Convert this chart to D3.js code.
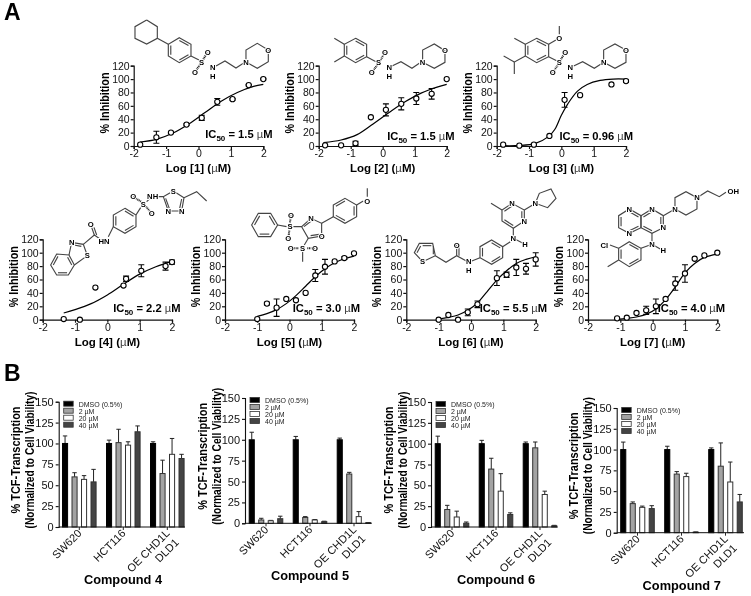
<!DOCTYPE html>
<html>
<head>
<meta charset="utf-8">
<script src="https://cdn.jsdelivr.net/npm/d3@7"></script>
<style>
  html, body { margin: 0; padding: 0; background: #fff; }
  svg { display: block; font-family: "Liberation Sans", Arial, sans-serif; filter: blur(0.4px); }
  .axis text { fill: #111; }
  .axis path, .axis line { stroke: #111; }
</style>
</head>
<body>
<div id="chart"></div>
<script>
const width = 751, height = 596;

// dose response points: log conc, % inhibition, error
const x1 = [-1.8, -1.3, -0.85, -0.37, 0.1, 0.58, 1.05, 1.55, 2];
const y1 = [2, 13, 20, 32, 42, 66, 70, 91, 100];
const e1 = [0, 9, 1, 1, 4, 5, 1, 1, 1];
const x2 = [-1.8, -1.3, -0.85, -0.37, 0.1, 0.58, 1.05, 1.53, 2];
const y2 = [1, 1, 4, 43, 54, 63, 71, 78, 100];
const e2 = [0, 0, 3, 0, 9, 9, 9, 8, 0];
const x3 = [-1.8, -1.3, -0.85, -0.37, 0.1, 0.58, 1.55, 2];
const y3 = [2, 0.5, 2, 15, 69, 76, 92, 97];
const e3 = [0, 0, 0, 0, 11, 0, 0, 2];
const x4 = [-1.35, -0.85, -0.37, 0.5, 0.58, 1.05, 1.8, 2];
const y4 = [1, 0, 48, 51, 61, 73, 80, 86];
const e4 = [0, 0, 0, 0, 4, 9, 6, 3];
const x5 = [-1, -0.7, -0.4, -0.1, 0.2, 0.5, 0.8, 1.1, 1.4, 1.7, 2];
const y5 = [1, 24, 18, 31, 29, 40, 66, 79, 87, 92, 99];
const e5 = [0, 2, 13, 0, 0, 0, 9, 11, 0, 2, 0];
const x6 = [-1, -0.7, -0.4, -0.1, 0.2, 0.8, 1.1, 1.4, 1.7, 2];
const y6 = [0, 7, 0, 11, 23, 62, 67, 78, 76, 90];
const e6 = [0, 0, 0, 5, 5, 11, 4, 12, 8, 10];
const x7 = [-1.1, -0.8, -0.5, -0.2, 0.1, 0.4, 0.7, 1, 1.3, 1.6, 2];
const y7 = [2, 3, 10, 14, 20, 31, 54, 69, 91, 96, 100];
const e7 = [0, 0, 0, 6, 11, 0, 10, 13, 0, 0, 0];

// fit curves
const cx1 = [-1.8, -1.3, -0.8, -0.3, 0.2, 0.7, 1.2, 1.7, 2];
const cy1 = [6, 10, 19, 33, 50, 67, 80, 89, 92];
const cx2 = [-1.85, -1.3, -0.8, -0.3, 0.2, 0.7, 1.2, 1.7, 2];
const cy2 = [5, 9, 17, 33, 50, 66, 79, 88, 92];
const cx3 = [-1.8, -1.3, -0.8, -0.4, -0.2, 0, 0.2, 0.5, 0.8, 1.2, 1.6, 2];
const cy3 = [0.5, 0.8, 4, 14, 25, 46, 63, 82, 92, 98, 100, 100];
const cx4 = [-1.35, -1, -0.5, 0, 0.5, 1, 1.5, 2];
const cy4 = [10, 15, 24, 37, 53, 68, 79, 87];
const cx5 = [-1, -0.7, -0.4, -0.1, 0.2, 0.5, 0.8, 1.1, 1.4, 1.7, 2];
const cy5 = [5, 9, 15, 24, 36, 50, 64, 76, 85, 91, 95];
const cx6 = [-1, -0.7, -0.4, -0.1, 0.2, 0.5, 0.8, 1.1, 1.4, 1.7, 2];
const cy6 = [1, 3.5, 7, 14, 25, 42, 59, 73, 84, 90, 94];
const cx7 = [-1.1, -0.8, -0.5, -0.2, 0.1, 0.4, 0.7, 1, 1.3, 1.6, 2];
const cy7 = [0.5, 2, 4, 8, 16, 30, 49, 70, 84, 93, 98];

// bar charts
const cells = ['SW620', 'HCT116', 'OE CHD1L DLD1'];
const doses = ['DMSO (0.5%)', '2 µM', '20 µM', '40 µM'];
const doseColor = ['#000000', '#a3a3a3', '#ffffff', '#444444'];
const bars4 = [[100, 60, 57, 54], [100, 101, 98, 114], [100, 64, 87, 82]];
const errs4 = [[9, 5, 4.5, 15], [4, 16, 4, 7], [2, 16, 19, 5]];
const bars5 = [[100, 4, 3, 5.5], [100, 7, 4, 2], [100, 59, 8, 0.7]];
const errs5 = [[9, 2, 0.5, 3], [4, 1, 0.5, 0.5], [2, 2, 6, 0.2]];
const bars6 = [[100, 21, 12, 4.5], [100, 69.5, 43, 15], [100, 95, 39, 1.5]];
const errs6 = [[9, 5, 7, 1.5], [4, 13, 21, 2], [2, 7, 4, 0.5]];
const bars7 = [[100, 35, 30.5, 29], [100, 70.5, 67.5, 0.7], [100, 80, 61, 37]];
const errs7 = [[9, 2, 1.5, 3.5], [4, 3, 4, 0.2], [2, 28, 24, 9]];

const svg = d3.select('#chart').append('svg')
  .attr('width', width)
  .attr('height', height)
  .attr('viewBox', [0, 0, width, height]);

// panel letters
svg.append('text').attr('x', 4).attr('y', 20).attr('font-size', 23).attr('font-weight', 'bold').text('A');
svg.append('text').attr('x', 4).attr('y', 381).attr('font-size', 23).attr('font-weight', 'bold').text('B');

// ---- structures, coordinates are in the 3x crop space of each block
const molecules = [
  { at: [0, 0],
    lines: [[440,60,472,80,472,115,440,132,405,115,405,80,440,60], [472,115,505,133], [573,168,597,180],
      [648,198,675,183,708,204,730,190], [738,186,738,150,772,130,805,150,805,185,772,205,738,186]],
    rings: [[[538,113],[573,133],[573,168],[538,188],[505,168],[505,133]]],
    dashed: [[610,178,623,156], [600,194,585,216]],
    atoms: [['S',605,186],['O',623,156],['O',585,216],['N',638,202],['H',638,230],['N',738,186],['O',805,150]] },
  { at: [0, 0],
    lines: [[1033,133,1003,115], [1033,168,1003,186], [1100,170,1128,185], [1176,198,1203,185,1236,205,1258,190],
      [1268,187,1268,150,1303,132,1335,152,1335,187,1303,205,1268,187]],
    rings: [[[1067,115],[1100,133],[1100,170],[1067,188],[1033,168],[1033,133]]],
    dashed: [[1142,180,1155,157], [1132,195,1115,218]],
    atoms: [['S',1136,188],['O',1155,157],['O',1115,218],['N',1168,202],['H',1168,230],['N',1268,187],['O',1335,152]] },
  { at: [376, 0],
    lines: [[448,133,415,115], [448,168,415,186,415,222], [415,186,383,168], [518,133,540,120], [550,103,550,78],
      [518,170,542,182], [593,198,620,185,655,205,675,192], [683,187,683,150,717,132,750,150,750,187,717,205,683,187]],
    rings: [[[482,115],[518,133],[518,170],[482,188],[448,168],[448,133]]],
    dashed: [[555,178,568,156], [545,196,530,218]],
    atoms: [['O',550,115],['S',550,188],['O',568,156],['O',530,218],['N',583,202],['H',583,230],['N',683,187],['O',750,150]] },
  { at: [0, 185],
    lines: [[207,210,215,172,250,178,262,212,223,240], [222,180,244,184], [250,178,283,150,312,170], [283,150,275,127], [290,150,282,127], [325,155,340,125],
      [408,90,422,68], [440,50,458,33], [470,35,490,35,520,18,552,38,545,78,505,78,490,35], [497,40,508,70], [545,42,539,70], [552,38,590,20,620,48]],
    rings: [[[152,240],[170,207],[207,210],[223,240],[205,270],[170,270]], [[375,70],[408,90],[408,125],[375,145],[340,125],[340,90]]],
    dashed: [[423,50,400,35], [438,65,455,85]],
    atoms: [['N',215,172],['S',262,212],['O',272,117],['HN',312,170],['S',430,58],['O',400,35],['O',455,85],['NH',458,33],['S',520,18],['N',545,78],['N',505,78]] },
  { at: [0, 185],
    lines: [[833,120,860,125], [880,125,905,125,933,100,965,115,965,153,925,160,905,125], [912,125,934,108], [932,152,958,148], [925,160,913,180], [908,200,908,230],
      [965,115,1000,95], [1070,60,1090,48], [1102,35,1102,10]],
    rings: [[[755,120],[775,85],[812,85],[833,120],[812,155],[775,155]], [[1000,60],[1035,40],[1070,60],[1070,95],[1035,115],[1000,95]]],
    dashed: [[870,112,873,90], [868,137,865,160], [895,190,872,190], [922,190,945,190]],
    atoms: [['S',870,125],['O',873,90],['O',865,160],['N',933,100],['O',965,153],['S',908,190],['O',872,190],['O',945,190],['O',1102,48]] },
  { at: [376, 185],
    lines: [[140,230,115,203,130,175,170,175,178,212,140,230], [123,203,134,183], [140,182,166,182], [172,184,172,208], [178,212,210,232,242,212,278,232], [242,212,242,180], [249,212,249,180], [278,232,312,218],
      [380,185,403,170], [412,160,412,130], [412,160,447,178], [378,75,345,55], [445,75,470,60], [478,55,490,25,525,12,540,40,515,68,478,55]],
    rings: [[[347,165],[380,185],[380,218],[347,238],[312,218],[312,185]], [[412,130],[378,108],[378,75],[408,55],[445,75],[445,108]]],
    atoms: [['S',140,230],['O',242,180],['N',278,229],['H',278,257],['N',412,160],['H',447,178],['N',408,55],['N',445,108],['N',478,55]] },
  { at: [376, 185],
    lines: [[828,145,828,178], [828,178,862,197], [828,178,795,190], [728,190,702,180], [728,225,695,245], [862,92,897,72],
      [897,72,897,38,930,20,963,38,963,72,930,90,897,72], [963,38,995,18,1030,35,1050,22]],
    rings: [[[728,92],[728,128],[760,145],[795,128],[795,92],[760,72]], [[795,92],[828,72],[862,92],[862,128],[828,145],[795,128]],
      [[760,170],[795,190],[795,225],[760,245],[728,225],[728,190]]],
    atoms: [['N',760,72],['N',760,145],['N',828,72],['N',862,128],['N',828,178],['H',862,197],['Cl',685,180],['N',897,72],['N',963,38],['OH',1072,18]] }
];

const lineGen = d3.line();
molecules.forEach(function(m){
  const g = svg.append('g').attr('transform', 'translate(' + m.at[0] + ',' + m.at[1] + ') scale(0.3333)');
  const bondStyle = sel => sel.attr('fill', 'none').attr('stroke', '#444').attr('stroke-width', 3.4);
  m.lines.forEach(function(l){
    g.append('path').call(bondStyle).attr('d', lineGen(d3.pairs(l).filter((p, i) => i % 2 == 0)));
  });
  m.rings.forEach(function(r){
    g.append('path').call(bondStyle).attr('d', lineGen(r) + 'Z');
    // inner lines of alternate bonds
    const c = [d3.mean(r, p => p[0]), d3.mean(r, p => p[1])];
    r.forEach(function(p, i){
      if (i % 2) return;
      const q = r[(i + 1) % r.length];
      const inner = [p, q].map(v => [v[0] + (c[0] - v[0]) * 0.22, v[1] + (c[1] - v[1]) * 0.22]);
      g.append('path').call(bondStyle).attr('d', lineGen(inner));
    });
  });
  (m.dashed || []).forEach(function(l){
    g.append('path').call(bondStyle).attr('stroke', '#222').attr('stroke-dasharray', '3 2').attr('stroke-width', 6).attr('d', lineGen([[l[0], l[1]], [l[2], l[3]]]));
  });
  g.selectAll('.atom').data(m.atoms).join('text')
    .attr('class', 'atom')
    .attr('x', d => d[1])
    .attr('y', d => d[2] + 8)
    .attr('text-anchor', 'middle')
    .attr('font-size', 23)
    .attr('font-weight', 'bold')
    .attr('fill', '#000')
    .attr('stroke', '#fff')
    .attr('stroke-width', 6)
    .attr('paint-order', 'stroke')
    .text(d => d[0]);
});

// ---- dose response panels
const dosePanels = [
  { n: 1, xs: x1, ys: y1, es: e1, cx: cx1, cy: cy1, ic: '1.5', left: 133.7, right: 263.3, y0: 146, y120: 65.7, icRight: 272.5, icY: 138 },
  { n: 2, xs: x2, ys: y2, es: e2, cx: cx2, cy: cy2, ic: '1.5', left: 318.7, right: 446.7, y0: 146, y120: 65.7, icRight: 454.5, icY: 140 },
  { n: 3, xs: x3, ys: y3, es: e3, cx: cx3, cy: cy3, ic: '0.96', left: 496.7, right: 626, y0: 146, y120: 65.7, icRight: 633, icY: 140 },
  { n: 4, xs: x4, ys: y4, es: e4, cx: cx4, cy: cy4, ic: '2.2', left: 42.7, right: 172, y0: 319.7, y120: 239.3, icRight: 180.5, icY: 312 },
  { n: 5, xs: x5, ys: y5, es: e5, cx: cx5, cy: cy5, ic: '3.0', left: 225, right: 354, y0: 319.7, y120: 239.3, icRight: 360, icY: 312 },
  { n: 6, xs: x6, ys: y6, es: e6, cx: cx6, cy: cy6, ic: '5.5', left: 406.3, right: 535.7, y0: 319.7, y120: 239.3, icRight: 547, icY: 312 },
  { n: 7, xs: x7, ys: y7, es: e7, cx: cx7, cy: cy7, ic: '4.0', left: 588, right: 717.3, y0: 319.7, y120: 239.3, icRight: 725, icY: 312 }
];

dosePanels.forEach(function(p){
  const x = d3.scaleLinear().domain([-2, 2]).range([p.left, p.right]);
  const y = d3.scaleLinear().domain([0, 120]).range([p.y0, p.y120]);
  const g = svg.append('g');

  g.append('g').attr('class', 'axis')
    .attr('transform', 'translate(0,' + p.y0 + ')')
    .call(d3.axisBottom(x).tickValues([-2, -1, 0, 1, 2]).tickSize(3).tickPadding(1).tickSizeOuter(3).tickFormat(d => String(d)))
    .call(a => a.selectAll('path,line').attr('stroke-width', 1.2))
    .call(a => a.selectAll('text').attr('font-size', 10.5).attr('font-family', 'inherit'));
  g.append('g').attr('class', 'axis')
    .attr('transform', 'translate(' + p.left + ',0)')
    .call(d3.axisLeft(y).tickValues(d3.range(0, 121, 20)).tickSize(3).tickPadding(1).tickSizeOuter(3))
    .call(a => a.selectAll('path,line').attr('stroke-width', 1.2))
    .call(a => a.selectAll('text').attr('font-size', 10.5).attr('font-family', 'inherit'));

  // fit
  g.append('path')
    .attr('fill', 'none').attr('stroke', '#000').attr('stroke-width', 1.2)
    .attr('d', d3.line().x(d => x(d[0])).y(d => y(d[1])).curve(d3.curveCatmullRom)(d3.zip(p.cx, p.cy)));

  // error bars and points
  const pts = d3.zip(p.xs, p.ys, p.es);
  g.selectAll('.err').data(pts.filter(d => d[2] > 0)).join('path')
    .attr('class', 'err')
    .attr('fill', 'none').attr('stroke', '#000').attr('stroke-width', 1.1)
    .attr('d', d => 'M' + (x(d[0]) - 3) + ',' + y(d[1] + d[2]) + 'h6M' + x(d[0]) + ',' + y(d[1] + d[2]) + 'V' + y(Math.max(d[1] - d[2], 0)) + 'M' + (x(d[0]) - 3) + ',' + y(Math.max(d[1] - d[2], 0)) + 'h6');
  g.selectAll('.dot').data(pts).join('circle')
    .attr('class', 'dot')
    .attr('cx', d => x(d[0]))
    .attr('cy', d => y(d[1]))
    .attr('r', 2.6)
    .attr('fill', '#fff')
    .attr('stroke', '#000')
    .attr('stroke-width', 1.1);

  // labels
  g.append('text')
    .attr('transform', 'translate(' + (p.left - 25) + ',' + (p.y0 - 43) + ') rotate(-90)')
    .attr('text-anchor', 'middle').attr('font-size', 12).attr('font-weight', 'bold')
    .attr('textLength', 61).attr('lengthAdjust', 'spacingAndGlyphs').text('% Inhibition');
  const xl = g.append('text')
    .attr('x', (p.left + p.right) / 2).attr('y', p.y0 + 26)
    .attr('text-anchor', 'middle').attr('font-size', 11.5).attr('font-weight', 'bold');
  xl.append('tspan').text('Log [' + p.n + '] (');
  xl.append('tspan').attr('font-weight', 'normal').attr('fill', '#444').text('µ');
  xl.append('tspan').text('M)');
  const ic = g.append('text')
    .attr('x', p.icRight).attr('y', p.icY)
    .attr('text-anchor', 'end').attr('font-size', 11.2).attr('font-weight', 'bold');
  ic.append('tspan').text('IC');
  ic.append('tspan').attr('font-size', 8).attr('dy', 3).text('50');
  ic.append('tspan').attr('dy', -3).text(' = ' + p.ic + ' ');
  ic.append('tspan').attr('font-weight', 'normal').attr('fill', '#444').text('µ');
  ic.append('tspan').text('M');
});

// ---- TCF transcription bars
const barPanels = [
  { title: 'Compound 4', vals: bars4, errs: errs4, axisX: 58.7, first: 79.3, end: 185, y0: 527, y150: 401.7, titleX: 123, titleY: 584 },
  { title: 'Compound 5', vals: bars5, errs: errs5, axisX: 245, first: 266, end: 371.7, y0: 523.3, y150: 398, titleX: 310, titleY: 580 },
  { title: 'Compound 6', vals: bars6, errs: errs6, axisX: 431, first: 452, end: 557.7, y0: 527, y150: 402, titleX: 496, titleY: 584 },
  { title: 'Compound 7', vals: bars7, errs: errs7, axisX: 616.7, first: 637.5, end: 744, y0: 532.7, y150: 408, titleX: 681.7, titleY: 590 }
];

barPanels.forEach(function(p){
  const group = d3.scaleBand().domain(cells).range([p.first - 22, p.first + 110]);
  const inner = d3.scaleBand().domain(doses).range([-19, 19]).paddingInner(0.36).paddingOuter(0.18);
  const y = d3.scaleLinear().domain([0, 150]).range([p.y0, p.y150]);
  const g = svg.append('g');

  const rows = p.vals.flatMap((v, i) => v.map((d, j) => ({cell: cells[i], dose: doses[j], j: j, val: d, err: p.errs[i][j]})));

  // error bars go behind the bars
  g.selectAll('.barErr').data(rows).join('path')
    .attr('class', 'barErr')
    .attr('fill', 'none').attr('stroke', '#222').attr('stroke-width', 1)
    .attr('d', function(d){
      const cx = group(d.cell) + group.bandwidth() / 2 + inner(d.dose) + inner.bandwidth() / 2;
      return 'M' + cx + ',' + y(d.val) + 'V' + y(d.val + d.err) + 'M' + (cx - 2.2) + ',' + y(d.val + d.err) + 'h4.4';
    });
  g.selectAll('.bar').data(rows).join('rect')
    .attr('class', 'bar')
    .attr('x', d => group(d.cell) + group.bandwidth() / 2 + inner(d.dose) + 0.5)
    .attr('y', d => y(d.val))
    .attr('width', inner.bandwidth() - 1)
    .attr('height', d => p.y0 - y(d.val))
    .attr('fill', d => doseColor[d.j])
    .attr('stroke', d => d.j == 0 ? '#000' : '#333')
    .attr('stroke-width', 1);

  // axes
  const xa = g.append('g').attr('class', 'axis')
    .attr('transform', 'translate(0,' + p.y0 + ')')
    .call(d3.axisBottom(group).tickSize(3).tickSizeOuter(0).tickFormat(''));
  xa.select('.domain').remove();
  xa.selectAll('line').attr('stroke-width', 0.9);
  xa.append('line').attr('x1', p.axisX).attr('x2', p.end).attr('stroke', '#222').attr('stroke-width', 1);
  xa.selectAll('.tick').append('text')
    .attr('transform', 'translate(3,7) rotate(-45)')
    .attr('text-anchor', 'end')
    .attr('font-size', 11)
    .attr('font-family', 'inherit')
    .each(function(d){
      const t = d3.select(this);
      if (d == 'OE CHD1L DLD1') {
        t.append('tspan').attr('x', 0).text('OE CHD1L');
        t.append('tspan').attr('x', 0).attr('dy', 13).text('DLD1');
      } else {
        t.text(d);
      }
    });
  g.append('g').attr('class', 'axis')
    .attr('transform', 'translate(' + p.axisX + ',0)')
    .call(d3.axisLeft(y).tickValues(d3.range(0, 151, 25)).tickSize(3).tickPadding(2).tickSizeOuter(3))
    .call(a => a.selectAll('path,line').attr('stroke-width', 1.1))
    .call(a => a.selectAll('text').attr('font-size', 11).attr('font-family', 'inherit'));

  // y title
  const yt = g.append('text')
    .attr('transform', 'translate(' + (p.axisX - 38.5) + ',' + (p.y0 - 67) + ') rotate(-90)')
    .attr('text-anchor', 'middle').attr('font-size', 12).attr('font-weight', 'bold');
  yt.append('tspan').attr('x', 0).attr('textLength', 107).attr('lengthAdjust', 'spacingAndGlyphs').text('% TCF-Transcription');
  yt.append('tspan').attr('x', 0).attr('dy', 14).attr('textLength', 137).attr('lengthAdjust', 'spacingAndGlyphs').text('(Normalized to Cell Viability)');

  // legend
  const lg = g.selectAll('.lg').data(doses).join('g')
    .attr('class', 'lg')
    .attr('transform', (d, i) => 'translate(' + (p.axisX + 5) + ',' + (p.y150 + i * 7 - 0.5) + ')');
  lg.append('rect').attr('width', 9.5).attr('height', 5)
    .attr('fill', (d, i) => doseColor[i]).attr('stroke', '#333').attr('stroke-width', 0.8);
  lg.append('text').attr('x', 15).attr('y', 5.5).attr('font-size', 7).attr('fill', '#222').text(d => d);

  g.append('text').attr('x', p.titleX).attr('y', p.titleY)
    .attr('text-anchor', 'middle').attr('font-size', 12.8).attr('font-weight', 'bold').text(p.title);
});
</script>
</body>
</html>
